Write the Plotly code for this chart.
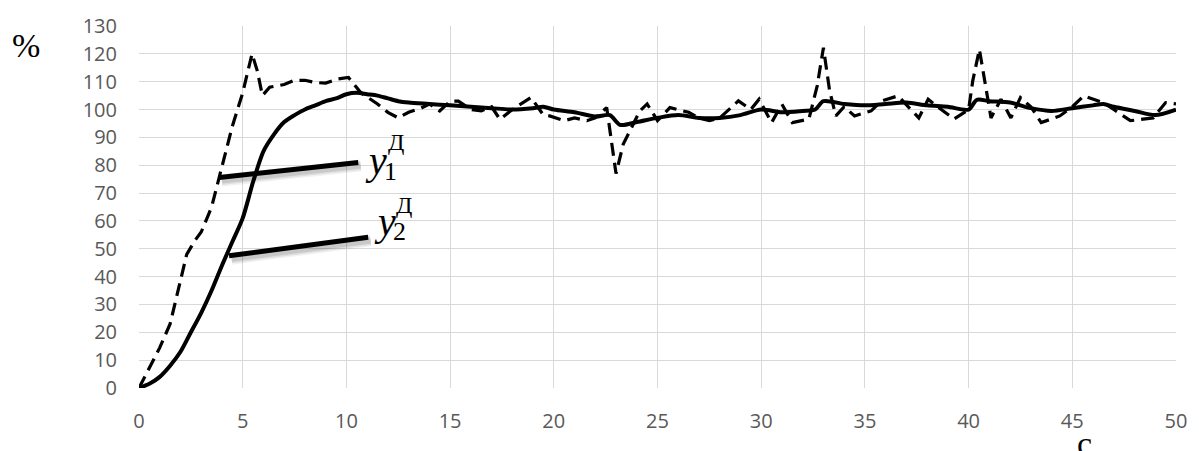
import plotly.graph_objects as go

# Time axis, s
t_solid = [0, 0.5, 1, 1.5, 2, 2.5, 3, 3.5, 4, 4.5, 5, 5.5, 6, 6.5, 7, 7.5, 8, 8.5, 9, 9.5,
           10, 10.5, 11, 11.5, 12, 12.5, 13, 14, 15, 16, 17, 18, 19, 19.5, 20, 21, 22, 22.7,
           23.2, 24, 25, 26, 27, 28, 29, 30, 31, 32, 32.6, 33, 34, 35, 36, 37, 38, 39, 40,
           40.4, 41, 42, 43, 44, 45, 46, 46.5, 47, 48, 49, 50]
# Smooth response, %
y_solid = [0, 1.5, 4, 8, 13, 20, 27, 35, 44, 52.5, 61, 74, 85, 91, 95.5, 98, 100, 101.5, 103, 104,
           105.5, 106, 105.5, 105, 104, 103, 102.5, 102, 101.5, 101, 100.5, 100, 100.5, 101, 100, 99, 97.5, 98,
           94.5, 95.5, 97, 98, 97, 97, 98, 100, 99, 99.5, 100, 103, 102, 101.5, 102, 102.5, 101.5, 101, 100,
           103.5, 103, 102.5, 100.5, 99.5, 100.5, 101.5, 102, 101, 99.5, 98, 100]

t_dash = [0, 0.5, 1, 1.5, 2, 2.3, 2.7, 3, 3.5, 4, 4.5, 5, 5.45, 5.7, 5.95, 6.3, 7, 7.5, 8, 8.5,
          9, 9.6, 10.1, 10.7, 11.05, 11.5, 12, 12.5, 13, 13.6, 14, 14.5, 15, 15.4, 16, 16.5, 17, 17.4,
          18, 18.9, 19.5, 19.8, 20.5, 21, 21.6, 22, 22.55, 23, 23.35, 24.15, 24.5, 25, 25.6, 26, 26.5,
          27, 27.5, 28, 28.9, 29.5, 29.9, 30.5, 31, 31.5, 32.3, 32.7, 33, 33.3, 33.6, 34, 34.5, 35.3,
          35.8, 36.6, 37.1, 37.6, 38.05, 38.5, 39.3, 40, 40.2, 40.52, 41.08, 41.56, 42.04, 42.5, 43, 43.5,
          44.4, 45, 45.55, 46.5, 47, 47.8, 48.9, 49.5, 50]
# Measured signal with noise, %
y_dash = [0, 7, 14.5, 23, 38, 48, 53, 56, 65, 79, 94, 106, 120, 114, 105, 108, 109, 110.5, 110.5, 109.7,
          109.5, 111, 111.5, 106, 104.3, 102, 99, 97, 99, 100.5, 102, 99.5, 103, 103, 100, 99.5, 101, 96.5,
          100, 104.3, 98, 97.7, 96, 97, 96, 97, 100.7, 77, 87.6, 99.5, 102, 96, 100.7, 100, 99,
          97, 96, 97, 103.1, 100, 103.7, 95.3, 101.9, 95.3, 96.6, 108.5, 122.2, 106.7, 97.7, 101, 97.7, 99.5,
          103.1, 104.9, 101, 97, 103.7, 101, 96.6, 100, 110.3, 121.6, 97, 103.7, 97, 104.3, 101, 95.3,
          97.7, 101, 104.9, 102.5, 100, 96, 97, 102.5, 102]

x_ticks = [0, 5, 10, 15, 20, 25, 30, 35, 40, 45, 50]
y_ticks = [0, 10, 20, 30, 40, 50, 60, 70, 80, 90, 100, 110, 120, 130]

# Leader lines for the curve labels: (x0, y0, x1, y1) in data units
leader_1 = (3.87, 75.6, 10.57, 81.0)
leader_2 = (4.34, 47.5, 11.05, 54.1)

fig = go.Figure()
fig.add_trace(go.Scatter(x=t_dash, y=y_dash, mode="lines",
                         line=dict(color="black", width=3.2, dash="13px,7px"),
                         showlegend=False, hoverinfo="skip"))
fig.add_trace(go.Scatter(x=t_solid, y=y_solid, mode="lines",
                         line=dict(color="black", width=4, shape="spline", smoothing=0.8),
                         showlegend=False, hoverinfo="skip"))

for (x0, y0, x1, y1) in (leader_1, leader_2):
    # soft drop shadow under the leader
    for w, a in ((12, 0.05), (9, 0.08), (6, 0.10)):
        fig.add_shape(type="line", x0=x0 + 0.12, y0=y0 - 1.1, x1=x1 + 0.12, y1=y1 - 1.1,
                      line=dict(color=f"rgba(0,0,0,{a})", width=w), layer="above")
    fig.add_shape(type="line", x0=x0, y0=y0, x1=x1, y1=y1,
                  line=dict(color="black", width=5), layer="above")

serif = "Liberation Serif"


def px_x(p):
    return (p - 139.3) / 20.87


def px_y(p):
    return (387.7 - p) / 2.79


labels = [
    ("y", 377.5, 160, 40, True),
    ("Д", 397.5, 141, 24, False),
    ("1", 392, 171, 26, False),
    ("y", 386.5, 221, 40, True),
    ("Д", 405.5, 204, 24, False),
    ("2", 401, 231, 26, False),
]
for txt, lx, ly, size, ital in labels:
    fig.add_annotation(x=px_x(lx), y=px_y(ly), text=txt, showarrow=False,
                       xanchor="center", yanchor="middle",
                       font=dict(family=serif, size=size, color="black",
                                 style="italic" if ital else "normal"))

fig.add_annotation(xref="paper", yref="paper", x=-0.109, y=0.945, text="%",
                   showarrow=False, xanchor="center", yanchor="middle",
                   font=dict(family=serif, size=34, color="black"))
fig.add_annotation(xref="paper", yref="paper", x=0.912, y=-0.098, text="с",
                   showarrow=False, xanchor="center", yanchor="top",
                   font=dict(family=serif, size=34, color="black"))

grid = "#d9d9d9"
tick_font = dict(family="Open Sans", size=20, color="#595959")
fig.update_xaxes(range=[0, 50], tickvals=x_ticks, showgrid=True, gridcolor=grid, gridwidth=1,
                 zeroline=False, showline=False, tickfont=tick_font, ticks="",
                 ticklabelstandoff=19, fixedrange=True)
fig.update_yaxes(range=[0, 130], tickvals=y_ticks, showgrid=True, gridcolor=grid, gridwidth=1,
                 zeroline=False, showline=False, tickfont=tick_font, ticks="",
                 ticklabelstandoff=21, fixedrange=True)

fig.update_layout(width=1199, height=451, margin=dict(l=139, r=16, t=25, b=63),
                  plot_bgcolor="white", paper_bgcolor="white")

fig.write_html("out.html")
